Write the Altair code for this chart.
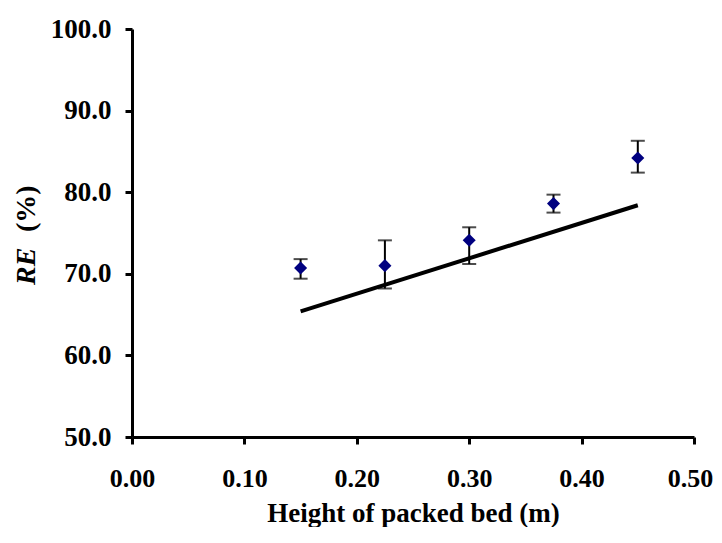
import altair as alt
import pandas as pd

heights = [0.15, 0.225, 0.30, 0.375, 0.45]
re_vals = [70.7, 71.0, 74.1, 78.6, 84.2]
err_hi = [71.8, 74.1, 75.7, 79.7, 86.3]
err_lo = [69.4, 68.2, 71.2, 77.5, 82.4]

model_x = [0.15, 0.45]
model_y = [65.4, 78.4]

x_ticks = [0.0, 0.1, 0.2, 0.3, 0.4, 0.5]
y_ticks = [50, 60, 70, 80, 90, 100]

FONT = "Liberation Serif"

pts = pd.DataFrame({"h": heights, "re": re_vals, "hi": err_hi, "lo": err_lo})
mdl = pd.DataFrame({"h": model_x, "re": model_y})

xs = alt.Scale(domain=[0, 0.5], nice=False, zero=False)
ys = alt.Scale(domain=[50, 100], nice=False, zero=False)

x_axis = alt.Axis(values=x_ticks, format=".2f", title="Height of packed bed (m)",
                  grid=False, domainColor="black", domainWidth=3, tickColor="black",
                  tickWidth=3, tickSize=7, labelFont=FONT, labelFontSize=26,
                  labelFontWeight="bold", labelColor="black", labelPadding=21,
                  labelOffset={"expr": "datum.value >= 0.5 ? -4 : 0"},
                  titleFont=FONT, titleFontSize=27, titleFontWeight="bold",
                  titleColor="black", titlePadding=9, labelFlush=False)
y_axis = alt.Axis(values=y_ticks, format=".1f", title=None,
                  grid=False, domainColor="black", domainWidth=3, tickColor="black",
                  tickWidth=3, tickSize=7, labelFont=FONT, labelFontSize=27,
                  labelFontWeight="bold", labelColor="black", labelPadding=14,
                  labelFlush=False)

line = alt.Chart(mdl).mark_line(color="black", strokeWidth=4).encode(
    x=alt.X("h:Q", scale=xs, axis=x_axis),
    y=alt.Y("re:Q", scale=ys, axis=y_axis),
)

bars = alt.Chart(pts).mark_rule(color="black", strokeWidth=2).encode(
    x="h:Q", y="lo:Q", y2="hi:Q"
)
cap_hi = alt.Chart(pts).mark_tick(color="black", orient="horizontal", size=14, thickness=2).encode(
    x="h:Q", y="hi:Q"
)
cap_lo = alt.Chart(pts).mark_tick(color="black", orient="horizontal", size=14, thickness=2).encode(
    x="h:Q", y="lo:Q"
)
points = alt.Chart(pts).mark_point(shape="diamond", filled=True, color="#000080",
                                   size=170, opacity=1).encode(
    x="h:Q", y="re:Q"
)

t_re = alt.Chart(pd.DataFrame({"t": ["RE"]})).mark_text(
    angle=270, align="left", baseline="middle", font=FONT, fontSize=28,
    fontWeight="bold", fontStyle="italic", color="black"
).encode(text="t:N", x=alt.value(-105), y=alt.value(256))
t_pc = alt.Chart(pd.DataFrame({"t": ["(%)"]})).mark_text(
    angle=270, align="left", baseline="middle", font=FONT, fontSize=28,
    fontWeight="bold", color="black"
).encode(text="t:N", x=alt.value(-105), y=alt.value(203))

chart = alt.layer(line, bars, cap_hi, cap_lo, points, t_re, t_pc).properties(
    width=562, height=408,
    autosize=alt.AutoSizeParams(type="none"),
    padding={"left": 124, "top": 21, "right": 20, "bottom": 90},
).configure(background="white").configure_view(strokeWidth=0, stroke="transparent")

chart.save("out.html", embed_options={"renderer": "svg", "actions": False})
